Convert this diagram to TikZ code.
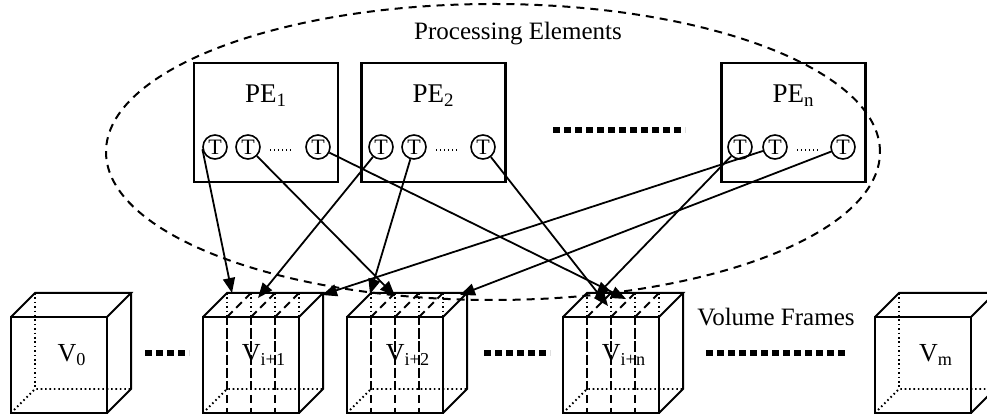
\documentclass[tikz,border=0pt]{standalone}
\usepackage{fontspec}
\setmainfont{Liberation Serif}
\usetikzlibrary{arrows.meta,shapes.geometric}
\newcommand{\mycube}[3]{%
  \draw[edge] (#1,317) rectangle ++(96,96);
  \draw[edge] (#1,317) -- ++(24,-24) -- ++(96,0) -- ++(-24,24);
  \draw[edge] (#1+120,293) -- ++(0,96) -- ++(-24,24);
  \draw[hidden] (#1,413) -- ++(24,-24) -- ++(96,0);
  \draw[hidden] (#1+24,293) -- ++(0,96);
  \node[vlabel] (#2) at (#1+61,355) {#3};
}
\newcommand{\myslices}[1]{%
  \foreach \k in {24,48,72} {
    \draw[slice] (#1+\k,317) -- ++(0,96);
    \draw[slice] (#1+\k,317) -- ++(24,-24);
    \draw[hidden] (#1+\k+24,293) -- ++(0,96);
  }%
}
\begin{document}
\begin{tikzpicture}[x=0.5pt,y=-0.5pt,
  edge/.style={line width=1pt, line join=miter},
  hidden/.style={line width=0.9pt, dash pattern=on 0.8pt off 1.4pt},
  slice/.style={line width=1pt, dash pattern=on 4pt off 2.5pt},
  pebox/.style={draw, line width=1.1pt, minimum width=72pt, minimum height=59.5pt, inner sep=0pt},
  tnode/.style={circle, draw, line width=0.8pt, minimum size=12pt, inner sep=0pt, font=\fontsize{11}{11}\selectfont},
  conn/.style={line width=0.9pt, -{Triangle[length=7.5pt,width=6pt]}},
  smalldots/.style={line width=0.7pt, dash pattern=on 0.7pt off 1.3pt},
  bigdots/.style={line width=3.25pt, dash pattern=on 3.5pt off 2pt},
  txt/.style={font=\fontsize{12.5}{14}\selectfont, inner sep=0pt},
  pelab/.style={font=\fontsize{13.5}{15}\selectfont, inner sep=0pt},
  vlabel/.style={font=\fontsize{13}{14}\selectfont, inner sep=0pt}
]
\useasboundingbox (0,0) rectangle (987,415);
\begin{scope}
\clip (0,0) rectangle (987,415);

% group ellipse
\node[ellipse, draw, dash pattern=on 4pt off 3pt, line width=1pt, minimum width=387pt, minimum height=148pt, inner sep=0pt] (group) at (493,152) {};
\node[txt, anchor=base] (grouplab) at (518,40) {Processing Elements};

% PE boxes
\node[pebox] (pe1) at (266,122.5) {};
\node[pebox] (pe2) at (433.5,122.5) {};
\node[pebox] (pen) at (793.5,122.5) {};
\node[pelab] (pe1lab) at (266,96) {PE\textsubscript{1}};
\node[pelab] (pe2lab) at (433.5,96) {PE\textsubscript{2}};
\node[pelab] (penlab) at (793.5,96) {PE\textsubscript{n}};

% T circles
\node[tnode] (a1) at (215,147) {T};
\node[tnode] (a2) at (248,147) {T};
\node[tnode] (a3) at (318,147) {T};
\node[tnode] (b1) at (381,147) {T};
\node[tnode] (b2) at (414,147) {T};
\node[tnode] (b3) at (483,147) {T};
\node[tnode] (c1) at (740,147) {T};
\node[tnode] (c2) at (775,147) {T};
\node[tnode] (c3) at (843,147) {T};
\draw[smalldots] (270,150) -- (293,150);
\draw[smalldots] (436,150) -- (459,150);
\draw[smalldots] (797,150) -- (820,150);

% big dots
\draw[bigdots] (553,130) -- (685,130);
\draw[bigdots] (145,353) -- (189,353);
\draw[bigdots] (484,353) -- (550,353);
\draw[bigdots] (706,353) -- (848,353);

% cubes
\mycube{11}{v0}{V\textsubscript{0}}
\myslices{203}
\mycube{203}{vi1}{V\textsubscript{i+1}}
\myslices{347}
\mycube{347}{vi2}{V\textsubscript{i+2}}
\myslices{563}
\mycube{563}{vin}{V\textsubscript{i+n}}
\mycube{875}{vm}{V\textsubscript{m}}

\node[txt, anchor=base] (vf) at (776,326) {Volume Frames};

% arrow targets
\coordinate (ta1) at (232,293);
\coordinate (ta2) at (395,296);
\coordinate (ta3) at (626,299);
\coordinate (tb1) at (258,298);
\coordinate (tb2) at (370,294);
\coordinate (tb3) at (608,306);
\coordinate (tc1) at (595,297);
\coordinate (tc2) at (322,295);
\coordinate (tc3) at (460,295);

\draw[conn] (a1.190) -- (ta1);
\draw[conn] (a2) -- (ta2);
\draw[conn] (a3) -- (ta3);
\draw[conn] (b1) -- (tb1);
\draw[conn] (b2) -- (tb2);
\draw[conn] (b3) -- (tb3);
\draw[conn] (c1) -- (tc1);
\draw[conn] (c2) -- (tc2);
\draw[conn] (c3) -- (tc3);
\end{scope}
\end{tikzpicture}
\end{document}
